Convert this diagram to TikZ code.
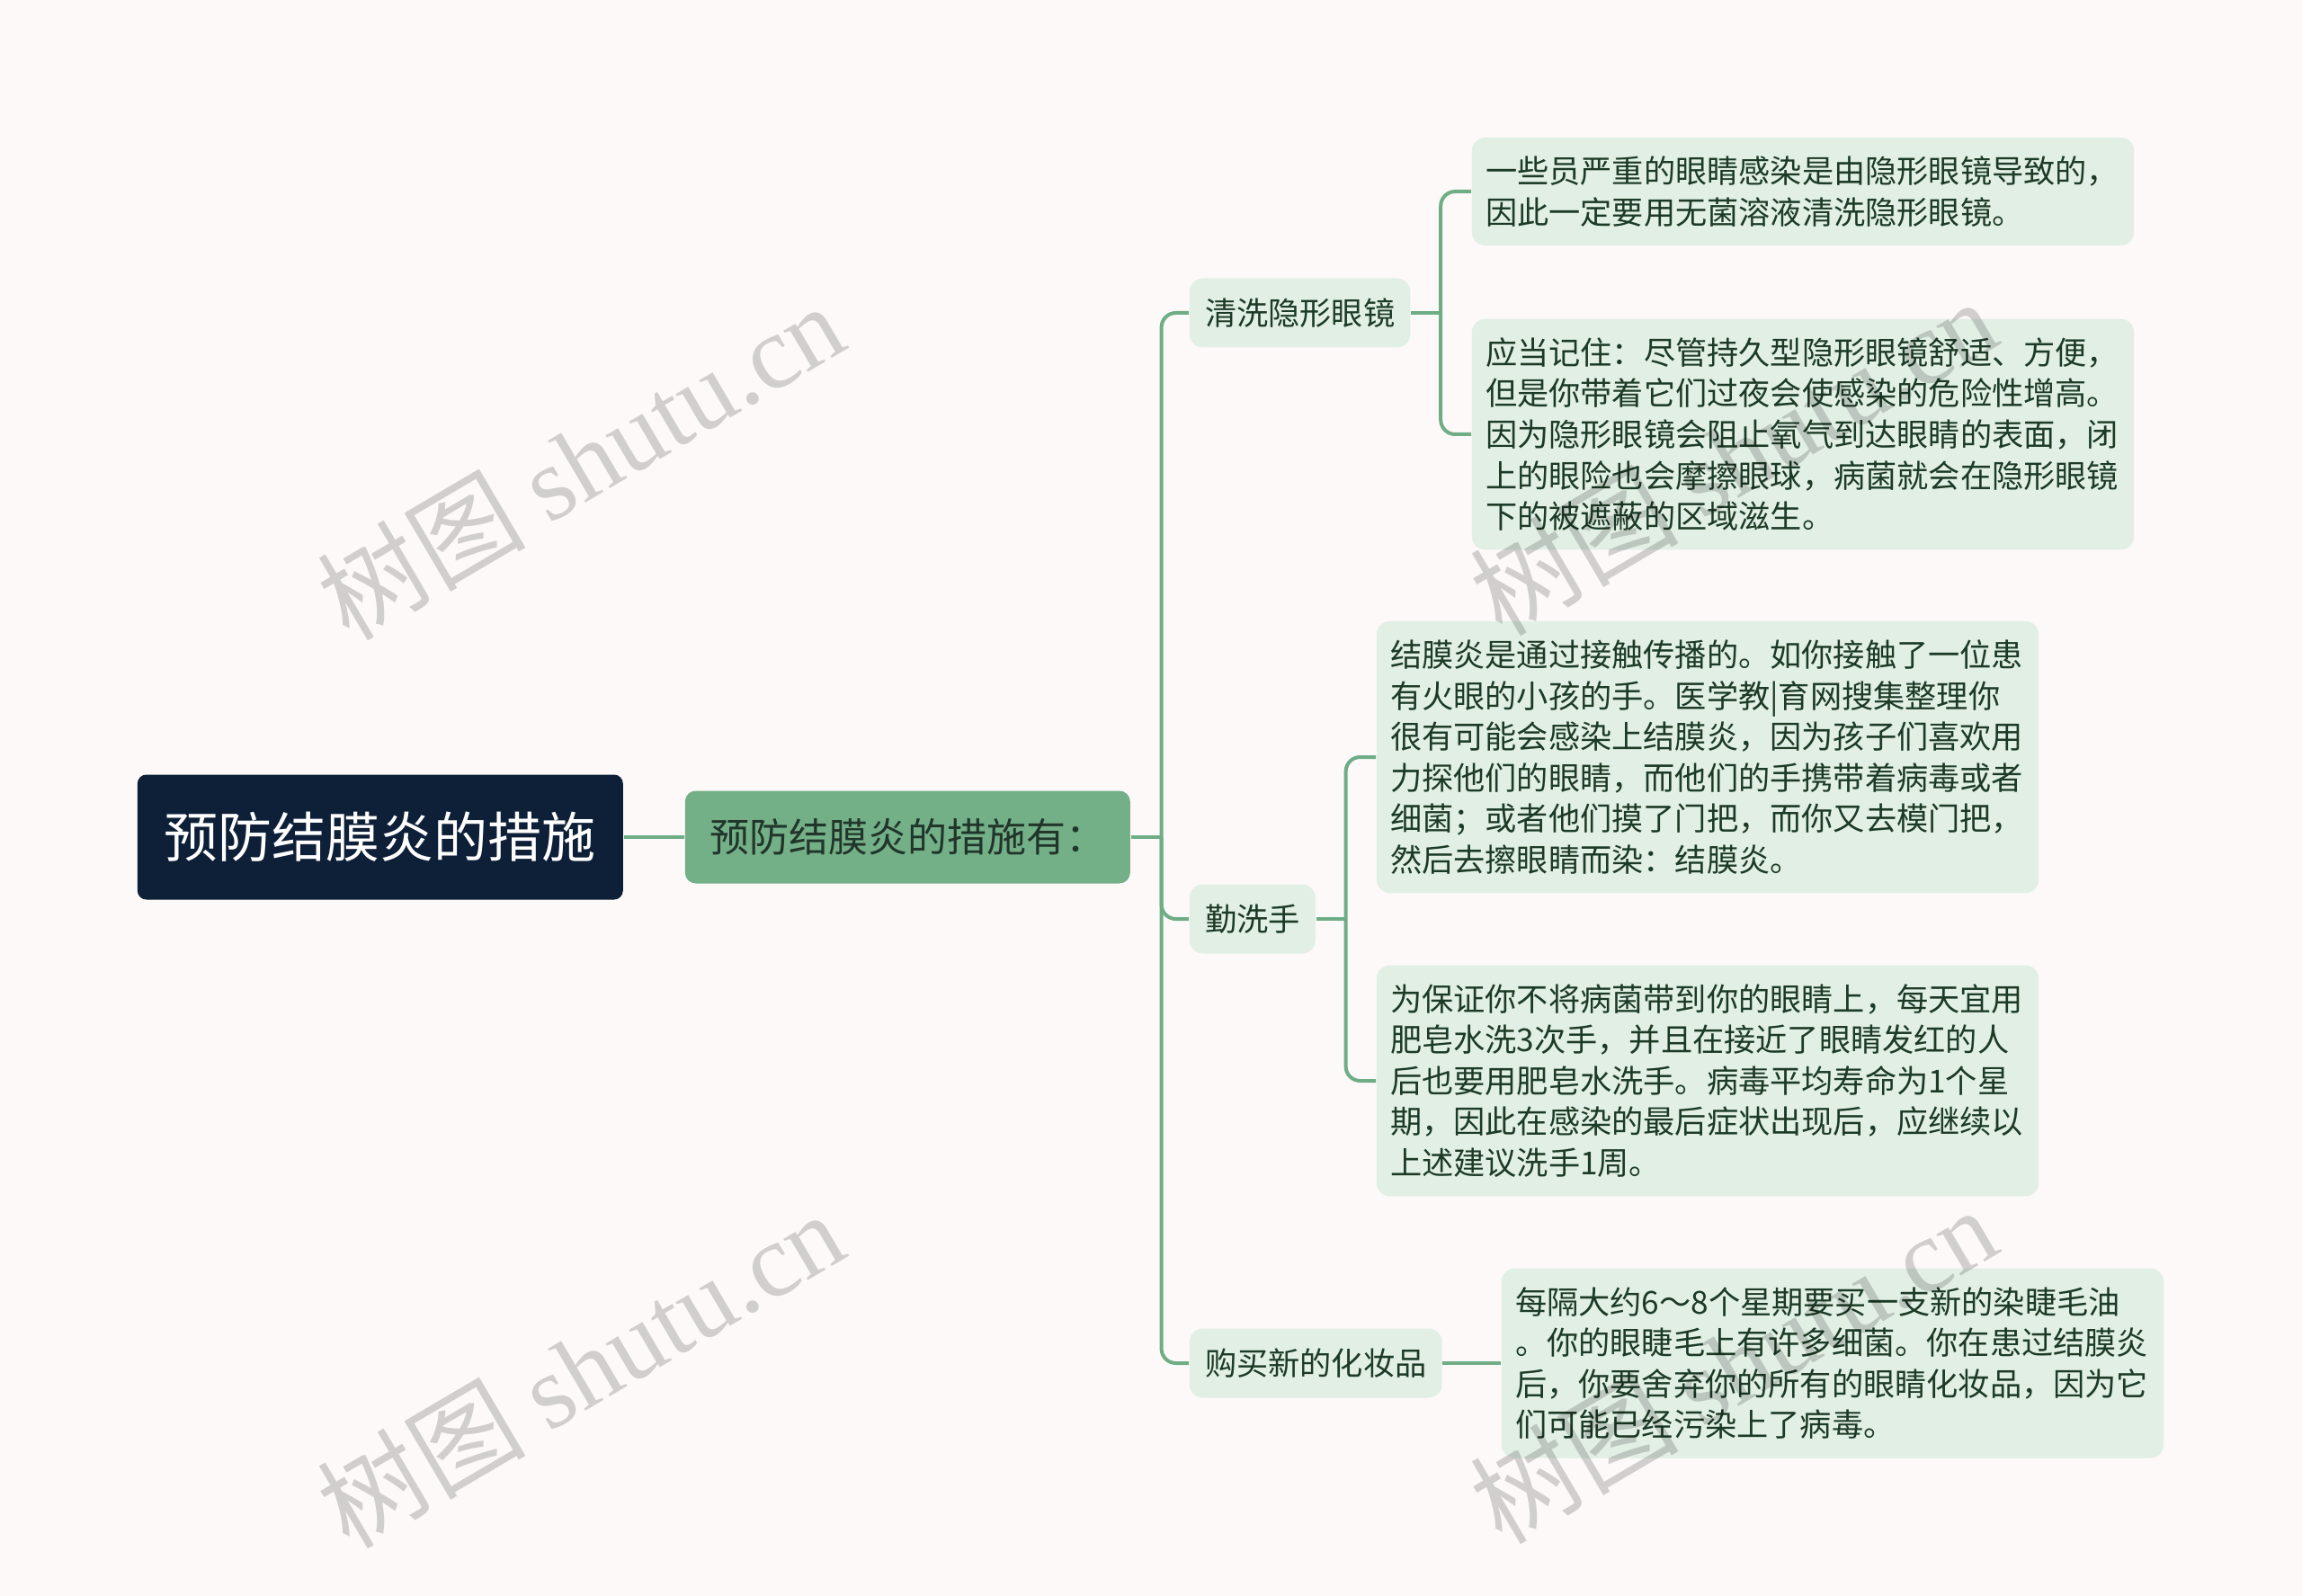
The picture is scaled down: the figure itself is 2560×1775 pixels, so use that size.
\documentclass[tikz,border=0pt]{standalone}
\usepackage{fontspec}
\setmainfont{Noto Sans CJK SC}
\newfontfamily\wmfont{Liberation Serif}
\definecolor{bg}{HTML}{FCF9F8}
\definecolor{navy}{HTML}{0E1F38}
\definecolor{midgreen}{HTML}{73B088}
\definecolor{palegreen}{HTML}{E1EFE5}
\definecolor{linkgreen}{HTML}{6FAD86}
\definecolor{textgreen}{HTML}{1C3A25}
\definecolor{textdark}{HTML}{22352A}

\begin{document}
\begin{tikzpicture}[x=0.25pt,y=-0.25pt,
    link/.style={draw=linkgreen,line width=1pt,rounded corners=4pt},
    topic/.style={fill=navy,text=white,rounded corners=2.5pt,minimum width=135pt,minimum height=34.75pt,inner sep=0pt,font=\fontsize{15}{18}\selectfont},
    subtopic/.style={fill=midgreen,text=textdark,rounded corners=3pt,minimum width=123.75pt,minimum height=25.75pt,inner sep=0pt,font=\fontsize{11}{13}\selectfont},
    branchbox/.style={fill=palegreen,text=textgreen,rounded corners=3.75pt,minimum height=19.25pt,inner xsep=4.3pt,inner ysep=0pt,font=\fontsize{8.8}{11}\selectfont},
    leaf/.style={fill=palegreen,text=textgreen,rounded corners=3.75pt,text width=176.5pt,align=left,inner xsep=3.8pt,inner ysep=5.2pt,font=\fontsize{8.8}{11.4}\selectfont},
    wm/.style={text=black,text opacity=0.17,rotate=30.5,font=\fontsize{29}{29}\selectfont}]
\fill[bg] (0,0) rectangle (2560,1775);

\node[topic,anchor=west] (root) at (152,931) {预防结膜炎的措施};
\node[subtopic,anchor=west] (sub) at (761,931) {预防结膜炎的措施有：};

\node[branchbox,anchor=west] (b1) at (1322,348) {清洗隐形眼镜};
\node[branchbox,anchor=west] (b2) at (1322,1022) {勤洗手};
\node[branchbox,anchor=west] (b3) at (1322,1516) {购买新的化妆品};

\node[leaf,anchor=west] (l1) at (1636,213) {一些员严重的眼睛感染是由隐形眼镜导致的，\\因此一定要用无菌溶液清洗隐形眼镜。};
\node[leaf,anchor=west] (l2) at (1636,483) {应当记住：尽管持久型隐形眼镜舒适、方便，\\但是你带着它们过夜会使感染的危险性增高。\\因为隐形眼镜会阻止氧气到达眼睛的表面，闭\\上的眼险也会摩擦眼球，病菌就会在隐形眼镜\\下的被遮蔽的区域滋生。};
\node[leaf,anchor=west] (l3) at (1530,842) {结膜炎是通过接触传播的。如你接触了一位患\\有火眼的小孩的手。医学教|育网搜集整理你\\很有可能会感染上结膜炎，因为孩子们喜欢用\\力探他们的眼睛，而他们的手携带着病毒或者\\细菌；或者他们摸了门把，而你又去模门把，\\然后去擦眼睛而染：结膜炎。};
\node[leaf,anchor=west] (l4) at (1530,1202) {为保证你不将病菌带到你的眼睛上，每天宜用\\肥皂水洗3次手，并且在接近了眼睛发红的人\\后也要用肥皂水洗手。病毒平均寿命为1个星\\期，因此在感染的最后症状出现后，应继续以\\上述建议洗手1周。};
\node[leaf,anchor=west] (l5) at (1669,1516) {每隔大约6～8个星期要买一支新的染睫毛油\\。你的眼睫毛上有许多细菌。你在患过结膜炎\\后，你要舍弃你的所有的眼睛化妆品，因为它\\们可能已经污染上了病毒。};

\draw[link] (root) -- (sub);
\path (sub.east) ++(34,0) coordinate (t0);
\draw[link] (sub.east) -- (t0);
\foreach \b in {b1,b2,b3}
    \draw[link] (t0) |- (\b.west);
\path (b1.east) ++(33,0) coordinate (t1);
\draw[link] (b1.east) -- (t1);
\foreach \l in {l1,l2}
    \draw[link] (t1) |- (\l.west);
\path (b2.east) ++(33,0) coordinate (t2);
\draw[link] (b2.east) -- (t2);
\foreach \l in {l3,l4}
    \draw[link] (t2) |- (\l.west);
\draw[link] (b3) -- (l5);

\foreach \x/\y in {645/512,645/1522,1927/507,1927/1517}
    \node[wm] at (\x,\y) {树图 {\wmfont shutu.cn}};
\end{tikzpicture}
\end{document}
